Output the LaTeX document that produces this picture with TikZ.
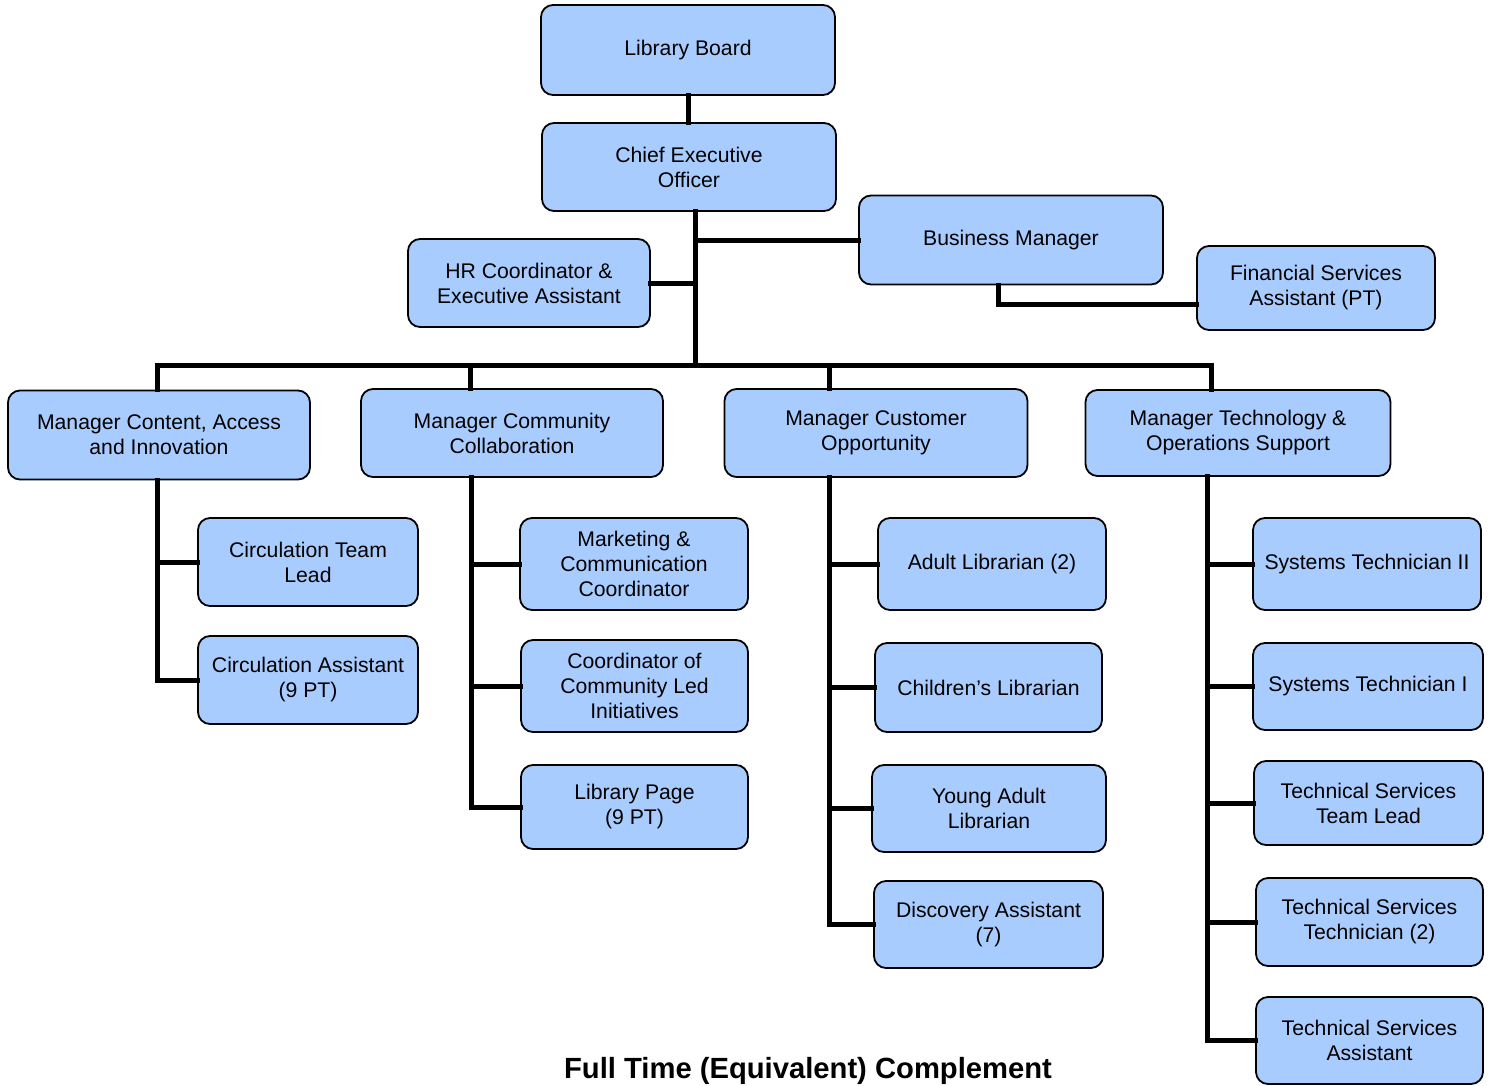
\documentclass[tikz,border=0pt]{standalone}
\usepackage{fontspec}
\setmainfont{Liberation Sans}
\usepackage{tikz}
\usetikzlibrary{calc,positioning}
\definecolor{boxblue}{HTML}{A9CCFF}
\tikzset{
  post/.style={draw, fill=boxblue, rounded corners=6pt, line width=0.9pt,
    align=center, inner sep=0pt, font=\fontsize{10.6}{12.5}\selectfont},
  link/.style={line width=2.5pt, line cap=rect}
}

\begin{document}
\begin{tikzpicture}[x=0.5pt,y=-0.5pt]
\useasboundingbox (0,0) rectangle (1494,1086);

% top of the tree
\node[post, minimum width=147pt, minimum height=45pt] (board) at (688,50) {Library Board};
\node[post, minimum width=147pt, minimum height=44pt] (ceo) at (689,167) {Chief Executive\\Officer};
\node[post, minimum width=152pt, minimum height=44.5pt] (bm) at (1011,240) {Business Manager};
\node[post, minimum width=121pt, minimum height=44pt] (hr) at (529,283) {HR Coordinator \&\\Executive Assistant};
\node[post, minimum width=119pt, minimum height=42pt] (fin) at (1316,288) {Financial Services\\Assistant (PT)};

% managers
\node[post, minimum width=151pt, minimum height=44.5pt] (mca) at (159,435) {Manager Content, Access\\and Innovation};
\node[post, minimum width=151pt, minimum height=44pt] (mcc) at (512,433) {Manager Community\\Collaboration};
\node[post, minimum width=151.5pt, minimum height=44pt] (mco) at (876,433) {Manager Customer\\Opportunity};
\node[post, minimum width=152.5pt, minimum height=43pt] (mto) at (1238,433) {Manager Technology \&\\Operations Support};

% content, access and innovation
\node[post, minimum width=110pt, minimum height=44pt] (ctl) at (308,562) {Circulation Team\\Lead};
\node[post, minimum width=110pt, minimum height=44pt] (cas) at (308,680) {Circulation Assistant\\(9 PT)};

% community collaboration
\node[post, minimum width=114pt, minimum height=46pt] (mkt) at (634,564) {Marketing \&\\Communication\\Coordinator};
\node[post, minimum width=113.5pt, minimum height=46pt] (cli) at (634.5,686) {Coordinator of\\Community Led\\Initiatives};
\node[post, minimum width=113.5pt, minimum height=42pt] (page) at (634.5,807) {Library Page\\(9 PT)};

% customer opportunity
\node[post, minimum width=114pt, minimum height=46pt] (adult) at (992,564) {Adult Librarian (2)};
\node[post, minimum width=113.5pt, minimum height=44.5pt] (child) at (988.5,687.5) {Children’s Librarian};
\node[post, minimum width=117pt, minimum height=43.5pt] (ya) at (989,808.5) {Young Adult\\Librarian};
\node[post, minimum width=114.5pt, minimum height=43.5pt] (disc) at (988.5,924.5) {Discovery Assistant\\(7)};

% technology and operations support
\node[post, minimum width=114pt, minimum height=46pt] (st2) at (1367,564) {Systems Technician II};
\node[post, minimum width=115pt, minimum height=43.5pt] (st1) at (1368,686.5) {Systems Technician I};
\node[post, minimum width=114.5pt, minimum height=42pt] (tstl) at (1368.5,803) {Technical Services\\Team Lead};
\node[post, minimum width=113.5pt, minimum height=44pt] (tst) at (1369.5,922) {Technical Services\\Technician (2)};
\node[post, minimum width=113.5pt, minimum height=43.5pt] (tsa) at (1369.5,1040.5) {Technical Services\\Assistant};

\node[font=\fontsize{14.6}{16}\selectfont\bfseries] (title) at (808,1071) {Full Time (Equivalent) Complement};

% trunk and bus
\coordinate (trunk) at (695,365);
\coordinate (bmDrop) at (998,304);
\coordinate (tA) at (157,0); \coordinate (tB) at (471,0);
\coordinate (tC) at (829,0); \coordinate (tD) at (1207,0);

\draw[link] (board.south) -- (board.south |- ceo.north);
\draw[link] (ceo.south -| trunk) -- (trunk);
\draw[link] (trunk |- bm.west) -- (bm.west);
\draw[link] (hr.east) -- (hr.east -| trunk);
\draw[link] (bm.south -| bmDrop) |- (bmDrop -| fin.west);
\draw[link] (mca.north -| tA) |- (1211,365) -- (mto.north -| 1211,0);
\draw[link] (mcc.north -| 470,0) -- (470,365);
\draw[link] (mco.north -| tC) -- (tC |- trunk);

% branches
\draw[link] (mca.south -| tA) |- (cas.west); \draw[link] (ctl.west) -- (ctl.west -| tA);
\draw[link] (mcc.south -| tB) |- (page.west);
\draw[link] (mkt.west) -- (mkt.west -| tB); \draw[link] (cli.west) -- (cli.west -| tB);
\draw[link] (mco.south -| tC) |- (disc.west);
\draw[link] (adult.west) -- (adult.west -| tC); \draw[link] (child.west) -- (child.west -| tC);
\draw[link] (ya.west) -- (ya.west -| tC);
\draw[link] (mto.south -| tD) |- (tsa.west);
\draw[link] (st2.west) -- (st2.west -| tD); \draw[link] (st1.west) -- (st1.west -| tD);
\draw[link] (tstl.west) -- (tstl.west -| tD); \draw[link] (tst.west) -- (tst.west -| tD);
\end{tikzpicture}
\end{document}
